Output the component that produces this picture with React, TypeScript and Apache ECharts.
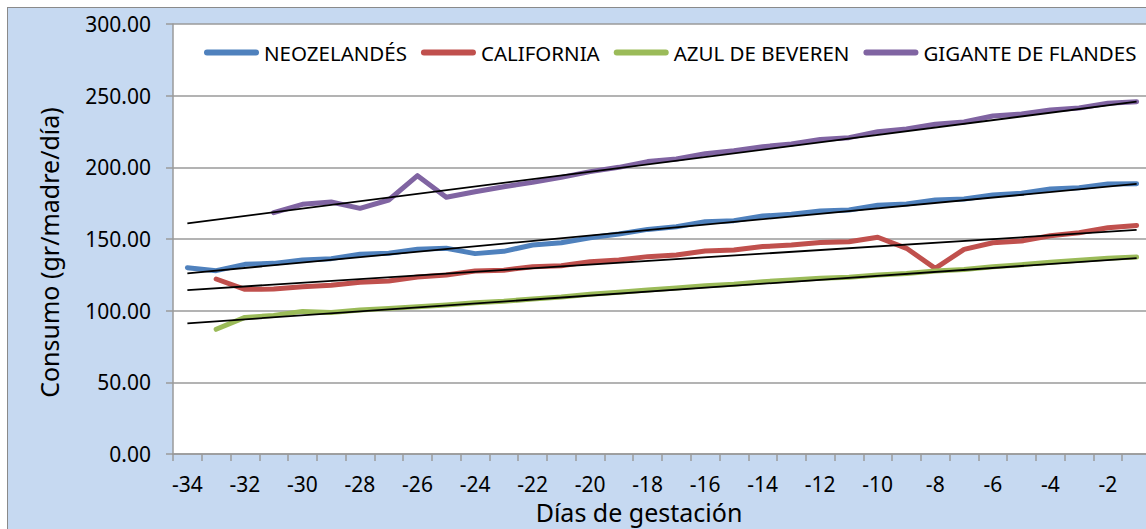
import React, { useEffect, useRef } from 'react';
import * as echarts from 'echarts';

const days = ['-34','-33','-32','-31','-30','-29','-28','-27','-26','-25','-24','-23','-22','-21','-20','-19','-18','-17','-16','-15','-14','-13','-12','-11','-10','-9','-8','-7','-6','-5','-4','-3','-2','-1'];

const seriesNames = ['NEOZELANDÉS', 'CALIFORNIA', 'AZUL DE BEVEREN', 'GIGANTE DE FLANDES'];

const neozelandes = [130.0,127.9,132.3,133.0,135.3,136.3,139.3,140.0,142.8,143.5,139.8,141.4,145.8,147.4,150.9,153.5,156.7,158.6,162.1,162.8,166.0,167.2,169.5,170.2,173.5,174.4,177.2,177.9,180.7,181.9,184.9,185.8,188.4,188.6];

const california = [null,122.1,114.9,115.1,116.7,117.7,119.8,120.7,123.5,124.9,127.7,128.2,130.7,131.4,134.2,135.3,137.7,138.8,141.6,142.3,144.7,145.8,147.6,148.1,151.2,143.5,129.5,142.8,147.4,148.6,152.3,154.4,157.9,159.5];

const azul = [null,87.0,95.3,96.7,99.5,98.8,100.5,101.6,102.8,104.0,105.6,106.6,108.1,109.5,111.4,112.8,114.4,115.8,117.4,118.4,120.2,121.4,122.6,123.3,124.9,126.0,127.7,128.8,130.7,132.1,133.7,135.1,136.5,137.4];

const gigante = [null,null,null,168.4,174.2,175.8,171.4,177.2,194.2,179.1,183.0,186.5,189.5,193.0,197.0,200.0,204.0,205.8,209.5,211.6,214.4,216.3,219.5,220.7,224.9,226.7,230.0,231.6,235.8,237.2,240.0,241.4,244.7,245.8];

// Linear trendline values read at the first (-34) and last (-1) day
const trendStart = [126.0, 114.4, 91.2, 160.9];
const trendEnd = [188.4, 156.3, 136.7, 245.8];

const colors = ['#4F81BD', '#C0504D', '#9BBB59', '#8064A2'];

const FONT = 'Noto Sans';

export default function App() {
  const ref = useRef<HTMLDivElement>(null);
  useEffect(() => {
    if (!ref.current) return;
    const chart = echarts.init(ref.current, undefined, { renderer: 'svg' });
    const values = [neozelandes, california, azul, gigante];
    const mainSeries = values.map((d, i) => ({
      name: seriesNames[i],
      type: 'line',
      data: d,
      symbol: 'none',
      showSymbol: false,
      connectNulls: false,
      z: 2,
      itemStyle: { color: colors[i] },
      lineStyle: { color: colors[i], width: 5, cap: 'round', join: 'round' },
    }));
    const trendSeries = trendStart.map((s, i) => {
      const d: (number | null)[] = days.map(() => null);
      d[0] = s;
      d[days.length - 1] = trendEnd[i];
      return {
        name: 'trend' + i,
        type: 'line',
        data: d,
        connectNulls: true,
        symbol: 'none',
        showSymbol: false,
        z: 3,
        silent: true,
        itemStyle: { color: '#000' },
        lineStyle: { color: '#000', width: 1.8 },
      };
    });
    const grayAxis = '#9a9a9a';
    chart.setOption({
      animation: false,
      backgroundColor: 'transparent',
      textStyle: { fontFamily: FONT, color: '#000' },
      grid: {
        left: 165,
        top: 16,
        right: 17,
        bottom: 75,
        show: true,
        backgroundColor: '#ffffff',
        borderWidth: 0,
        containLabel: false,
        outerBoundsMode: 'none',
      },
      legend: {
        data: seriesNames,
        left: 196,
        top: 34,
        padding: 0,
        itemWidth: 55,
        itemHeight: 6,
        itemGap: 14,
        icon: 'path://M3,0H52A3,3,0,0,1,52,6H3A3,3,0,0,1,3,0Z',
        itemStyle: { borderWidth: 0 },
        textStyle: { fontFamily: FONT, fontSize: 20.5, color: '#000' },
      },
      xAxis: {
        type: 'category',
        data: days,
        boundaryGap: true,
        name: 'Días de gestación',
        nameLocation: 'middle',
        nameGap: 34,
        nameTextStyle: { fontFamily: FONT, fontSize: 25, lineHeight: 24, color: '#000', padding: [0, 46, 0, 0] },
        axisLine: { show: true, lineStyle: { color: grayAxis, width: 1.5 } },
        axisTick: { show: true, interval: 0, length: 7, alignWithLabel: false, lineStyle: { color: grayAxis, width: 1.5 } },
        axisLabel: { interval: 1, margin: 21, fontFamily: FONT, fontSize: 21, lineHeight: 18, color: '#000' },
        splitLine: { show: false },
      },
      yAxis: {
        type: 'value',
        min: 0,
        max: 300,
        interval: 50,
        name: 'Consumo (gr/madre/día)',
        nameLocation: 'middle',
        nameGap: 112,
        nameTextStyle: { fontFamily: FONT, fontSize: 25, color: '#000', padding: [0, 27, 0, 0] },
        axisLine: { show: true, lineStyle: { color: grayAxis, width: 1.5 } },
        axisTick: { show: true, length: 7, lineStyle: { color: grayAxis, width: 1.5 } },
        axisLabel: {
          margin: 22,
          fontFamily: FONT,
          fontSize: 21,
          color: '#000',
          formatter: (v: number) => v.toFixed(2),
        },
        splitLine: { show: true, lineStyle: { color: grayAxis, width: 1.5 } },
      },
      series: [...mainSeries, ...trendSeries],
    });
    return () => chart.dispose();
  }, []);

  return (
    <div
      style={{
        position: 'fixed',
        left: 7,
        top: 7,
        width: 1139,
        height: 522,
        boxSizing: 'border-box',
        borderLeft: '1px solid #8a8a8a',
        borderTop: '1px solid #8a8a8a',
        background: '#C6D9F1',
        overflow: 'hidden',
      }}
    >
      <div ref={ref} style={{ width: 1160, height: 521 }} />
    </div>
  );
}
